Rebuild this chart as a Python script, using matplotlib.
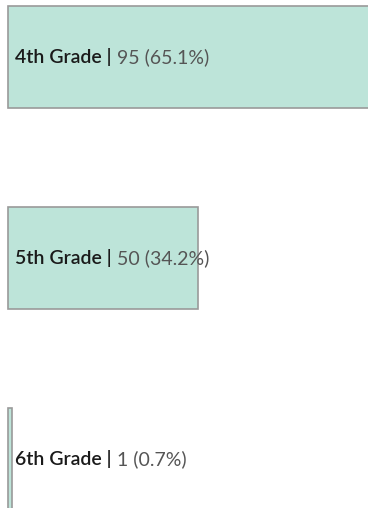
import matplotlib
matplotlib.use("Agg")
import matplotlib.pyplot as plt

grades = ["4th Grade", "5th Grade", "6th Grade"]
counts = [95, 50, 1]
pcts = [65.1, 34.2, 0.7]

W, H = 368, 508
fig = plt.figure(figsize=(W / 100, H / 100), dpi=100)
ax = fig.add_axes([0, 0, 1, 1])

px_per_unit = 3.8
left_px = 8
ax.set_xlim(-left_px / px_per_unit, (W - left_px) / px_per_unit)
step = 201
first_c = 57
ax.set_ylim((H - first_c) / step, -first_c / step)

ypos = list(range(len(grades)))
ax.barh(ypos, counts, height=0.505, color="#bde4d9", edgecolor="#9a9a9a", linewidth=1.2)

for y, g, c, p in zip(ypos, grades, counts, pcts):
    t = ax.annotate(g + " |", xy=(0, y), xytext=(7, 0), textcoords="offset pixels",
                    ha="left", va="center", fontsize=14, family="Lato",
                    fontweight="semibold", color="#1a1a1a")
    ax.annotate(" %d (%.1f%%)" % (c, p), xy=(1, 0.5), xycoords=t,
                ha="left", va="center", fontsize=14, family="Lato",
                color="#555555")

ax.axis("off")
fig.savefig("out.png", dpi=100)
